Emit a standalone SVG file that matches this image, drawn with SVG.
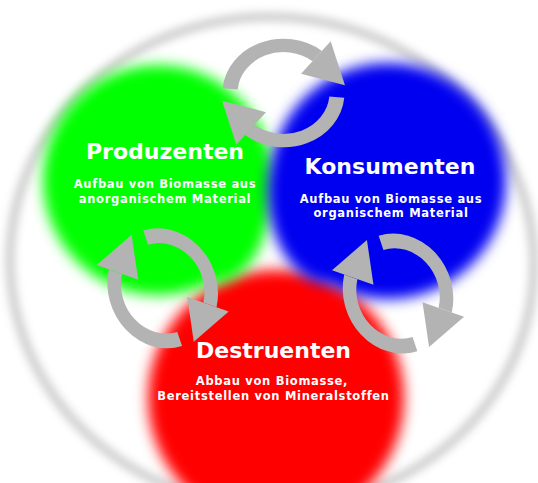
<svg xmlns="http://www.w3.org/2000/svg" xmlns:xlink="http://www.w3.org/1999/xlink" width="538" height="483" viewBox="0 0 538 483">
  <defs>
    <filter id="blob" x="-30%" y="-30%" width="160%" height="160%">
      <feGaussianBlur stdDeviation="7"/>
    </filter>
    <filter id="ringblur" x="-10%" y="-10%" width="120%" height="120%">
      <feGaussianBlur stdDeviation="4"/>
    </filter>
    <g id="cycle">
      <path d="M -49.8,-4.4 A 50 50 0 0 1 31.5,-38.9" class="arc"/>
      <polygon points="16.4,-20.2 44.1,-54.4 57.4,-8.1" class="head"/>
      <path d="M 49.8,4.4 A 50 50 0 0 1 -31.5,38.9" class="arc"/>
      <polygon points="-16.4,20.2 -44.1,54.4 -57.4,8.1" class="head"/>
    </g>
  </defs>
  <style>
    .arc { fill: none; stroke: #b3b3b3; stroke-width: 14; }
    .head { fill: #b3b3b3; stroke: none; }
    .title { font-family: "DejaVu Sans", "Liberation Sans", sans-serif; font-weight: bold; font-size: 22px; fill: #ffffff; text-anchor: middle; }
    .sub { font-family: "DejaVu Sans", "Liberation Sans", sans-serif; font-weight: bold; font-size: 11.5px; letter-spacing: 0.7px; fill: #ffffff; text-anchor: middle; }
  </style>
  <rect width="538" height="483" fill="#ffffff"/>
  <g id="background-ring">
    <ellipse cx="272" cy="262" rx="262" ry="245" transform="rotate(4 272 262)" fill="none" stroke="#cdcdcd" stroke-width="9" filter="url(#ringblur)"/>
  </g>
  <g id="destruenten">
    <circle cx="276" cy="398" r="128" fill="#ff0000" filter="url(#blob)"/>
  </g>
  <g id="produzenten">
    <g fill="#00ff00" filter="url(#blob)">
      <circle cx="158" cy="180" r="115"/>
      <ellipse cx="215" cy="188" rx="57" ry="95"/>
    </g>
  </g>
  <g id="konsumenten">
    <g fill="#0000f0" filter="url(#blob)">
      <circle cx="388" cy="181" r="118"/>
      <ellipse cx="330" cy="192" rx="62" ry="92"/>
    </g>
  </g>
  <g id="connectors">
    <use xlink:href="#cycle" transform="translate(283.5,93) scale(1.07,0.95)"/>
    <use xlink:href="#cycle" transform="translate(162.7,288.3) rotate(67) scale(1.07,0.95)"/>
    <use xlink:href="#cycle" transform="translate(398,293.5) rotate(67) scale(1.07,0.95)"/>
  </g>
  <g id="produzenten-label">
    <text class="title" x="165" y="159">Produzenten</text>
    <text class="sub" x="165" y="187.5">Aufbau von Biomasse aus</text>
    <text class="sub" x="165" y="203">anorganischem Material</text>
  </g>
  <g id="konsumenten-label">
    <text class="title" x="390" y="173.5">Konsumenten</text>
    <text class="sub" x="391" y="202.5">Aufbau von Biomasse aus</text>
    <text class="sub" x="391" y="217">organischem Material</text>
  </g>
  <g id="destruenten-label">
    <text class="title" x="273.5" y="357.5">Destruenten</text>
    <text class="sub" x="272" y="385">Abbau von Biomasse,</text>
    <text class="sub" x="273.5" y="400">Bereitstellen von Mineralstoffen</text>
  </g>
</svg>
